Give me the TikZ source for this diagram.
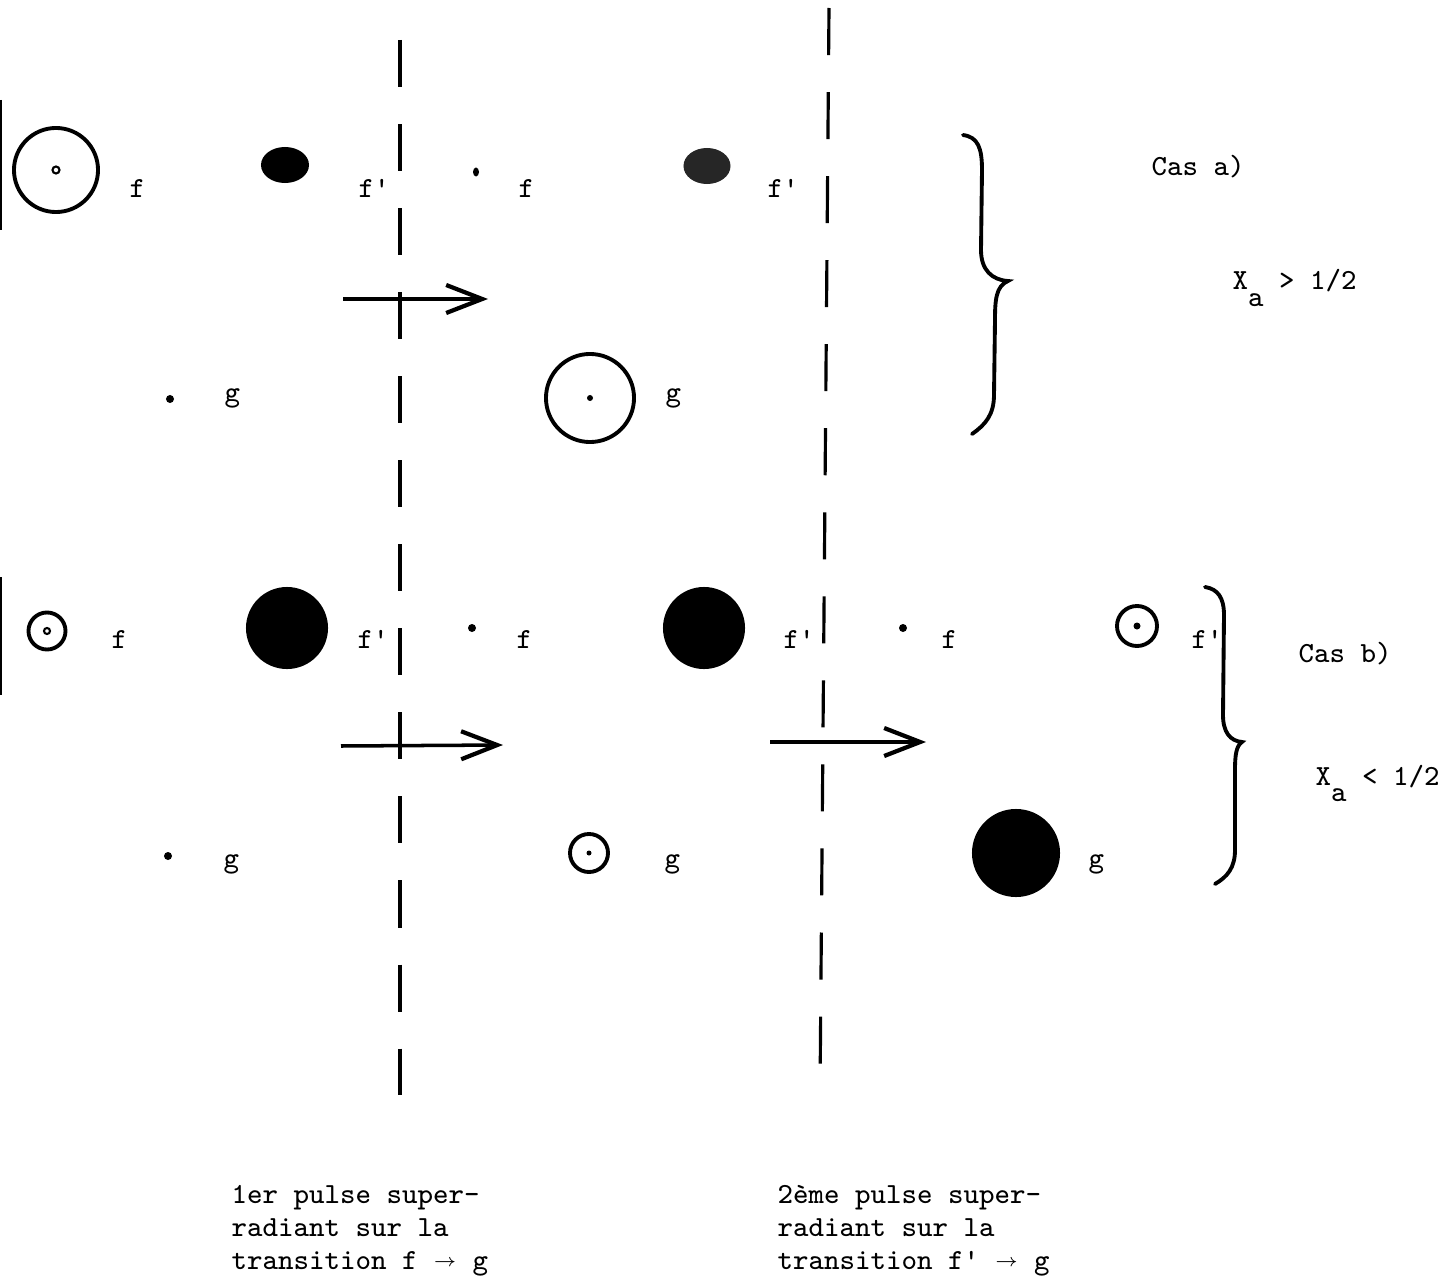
\documentclass[tikz,border=0pt]{standalone}
\usepackage{fontspec}
\usetikzlibrary{arrows.meta,shapes.geometric}
\newcommand{\labfont}{\ttfamily\fontsize{8.3}{9.4}\selectfont}
\newcommand{\smallarr}{\raisebox{0.3ex}{$\scriptscriptstyle\rightarrow$}}

\begin{document}
\begin{tikzpicture}[x=0.01cm,y=-0.01cm,line width=0.9pt,
  lab/.style={font=\labfont,inner sep=0pt,anchor=base west},
  ring/.style={circle,draw,line width=1.1pt,inner sep=0pt},
  blob/.style={ellipse,fill=black,inner sep=0pt},
  spot/.style={circle,fill=black,inner sep=0pt,minimum size=0.08cm},
  hole/.style={circle,draw,line width=0.6pt,inner sep=0pt,minimum size=0.07cm},
  cut/.style={line width=0.9pt,dash pattern=on 0.47cm off 0.37cm},
  pulse/.style={line width=1pt,-{Straight Barb[length=0.36cm,width=0.28cm,line width=1.2pt]}},
  brace/.style={line width=1.1pt,line cap=round}]
\useasboundingbox (0,0) rectangle (1451,1276);
\draw[line width=0.6pt] (1,100) -- (1,230);
\draw[line width=0.6pt] (1,577) -- (1,695);
\coordinate (cutAtop) at (400,40); \coordinate (cutAbot) at (400,1095);
\coordinate (cutBtop) at (829,8);  \coordinate (cutBbot) at (820,1095);
\draw[cut] (cutAtop) -- (cutAbot);
\draw[cut] (cutBtop) -- (cutBbot);
\node[ring,minimum size=0.84cm] (fA1) at (56,170) {};
\node[hole] at (fA1.center) {};
\node[blob,minimum width=0.48cm,minimum height=0.36cm] (fpA1) at (285,165) {};
\node[spot,ellipse,minimum width=0.06cm,minimum height=0.09cm] (fA2) at (476,172) {};
\node[blob,fill=black!85,minimum width=0.47cm,minimum height=0.36cm] (fpA2) at (707,166) {};
\node[spot] (gA1) at (170,399) {};
\node[ring,minimum size=0.88cm] (gA2) at (590,398) {};
\node[spot,minimum size=0.06cm] at (gA2.center) {};
\node[lab] (tfA1) at (128,198) {f};
\node[lab] (tfpA1) at (357,198) {f'};
\node[lab] (tfA2) at (517,198) {f};
\node[lab] (tfpA2) at (766,198) {f'};
\node[lab] (tgA1) at (223,401) {g};
\node[lab] (tgA2) at (664,401) {g};
\coordinate (pA1) at (343,299); \coordinate (pA2) at (488,299);
\draw[pulse] (pA1) -- (pA2);
\draw[brace] (963,135) .. controls (978,137) and (982,148) .. (982,170)
  -- (981,250) .. controls (981,270) and (992,280) .. (1008,281)
  .. controls (996,286) and (995,300) .. (995,320)
  -- (994,395) .. controls (994,415) and (985,425) .. (972,434);
\node[lab] (casA) at (1150,176) {Cas a)};
\node[lab] (xA) at (1231,290) {X\raisebox{-4.8pt}{a} > 1/2};
\node[ring,minimum size=0.37cm] (fB1) at (47,631) {};
\node[hole,minimum size=0.06cm] at (fB1.center) {};
\node[blob,circle,minimum size=0.82cm] (fpB1) at (287,628) {};
\node[spot] (fB2) at (472,628) {};
\node[blob,circle,minimum size=0.82cm] (fpB2) at (704,628) {};
\node[spot] (fB3) at (903,628) {};
\node[ring,minimum size=0.40cm] (fpB3) at (1137,626) {};
\node[spot,minimum size=0.07cm] at (fpB3.center) {};
\node[spot] (gB1) at (168,856) {};
\node[ring,minimum size=0.38cm] (gB2) at (589,853) {};
\node[spot,minimum size=0.05cm] at (gB2.center) {};
\node[blob,circle,minimum size=0.88cm] (gB3) at (1016,853) {};
\node[lab] (tfB1) at (110,648) {f};
\node[lab] (tfpB1) at (356,648) {f'};
\node[lab] (tfB2) at (515,648) {f};
\node[lab] (tfpB2) at (782,648) {f'};
\node[lab] (tfB3) at (940,648) {f};
\node[lab] (tfpB3) at (1190,648) {f'};
\node[lab] (tgB1) at (222,867) {g};
\node[lab] (tgB2) at (663,867) {g};
\node[lab] (tgB3) at (1087,867) {g};
\coordinate (pB1) at (341,746); \coordinate (pB2) at (503,745);
\coordinate (pB3) at (770,742); \coordinate (pB4) at (926,742);
\draw[pulse] (pB1) -- (pB2);
\draw[pulse] (pB3) -- (pB4);
\draw[brace] (1205,587) .. controls (1218,589) and (1224,598) .. (1224,615)
  -- (1223,715) .. controls (1223,732) and (1230,741) .. (1242,742)
  .. controls (1236,746) and (1235,756) .. (1235,770)
  -- (1235,850) .. controls (1235,868) and (1227,877) .. (1215,884);
\node[lab] (casB) at (1297,662) {Cas b)};
\node[lab] (xB) at (1314,785) {X\raisebox{-4.8pt}{a} < 1/2};
\node[lab,anchor=north west,align=left] (puls1) at (230,1184)
  {1er pulse super-\\radiant sur la\\transition f \smallarr{} g};
\node[lab,anchor=north west,align=left] (puls2) at (776,1184)
  {2ème pulse super-\\radiant sur la\\transition f' \smallarr{} g};
\end{tikzpicture}
\end{document}
